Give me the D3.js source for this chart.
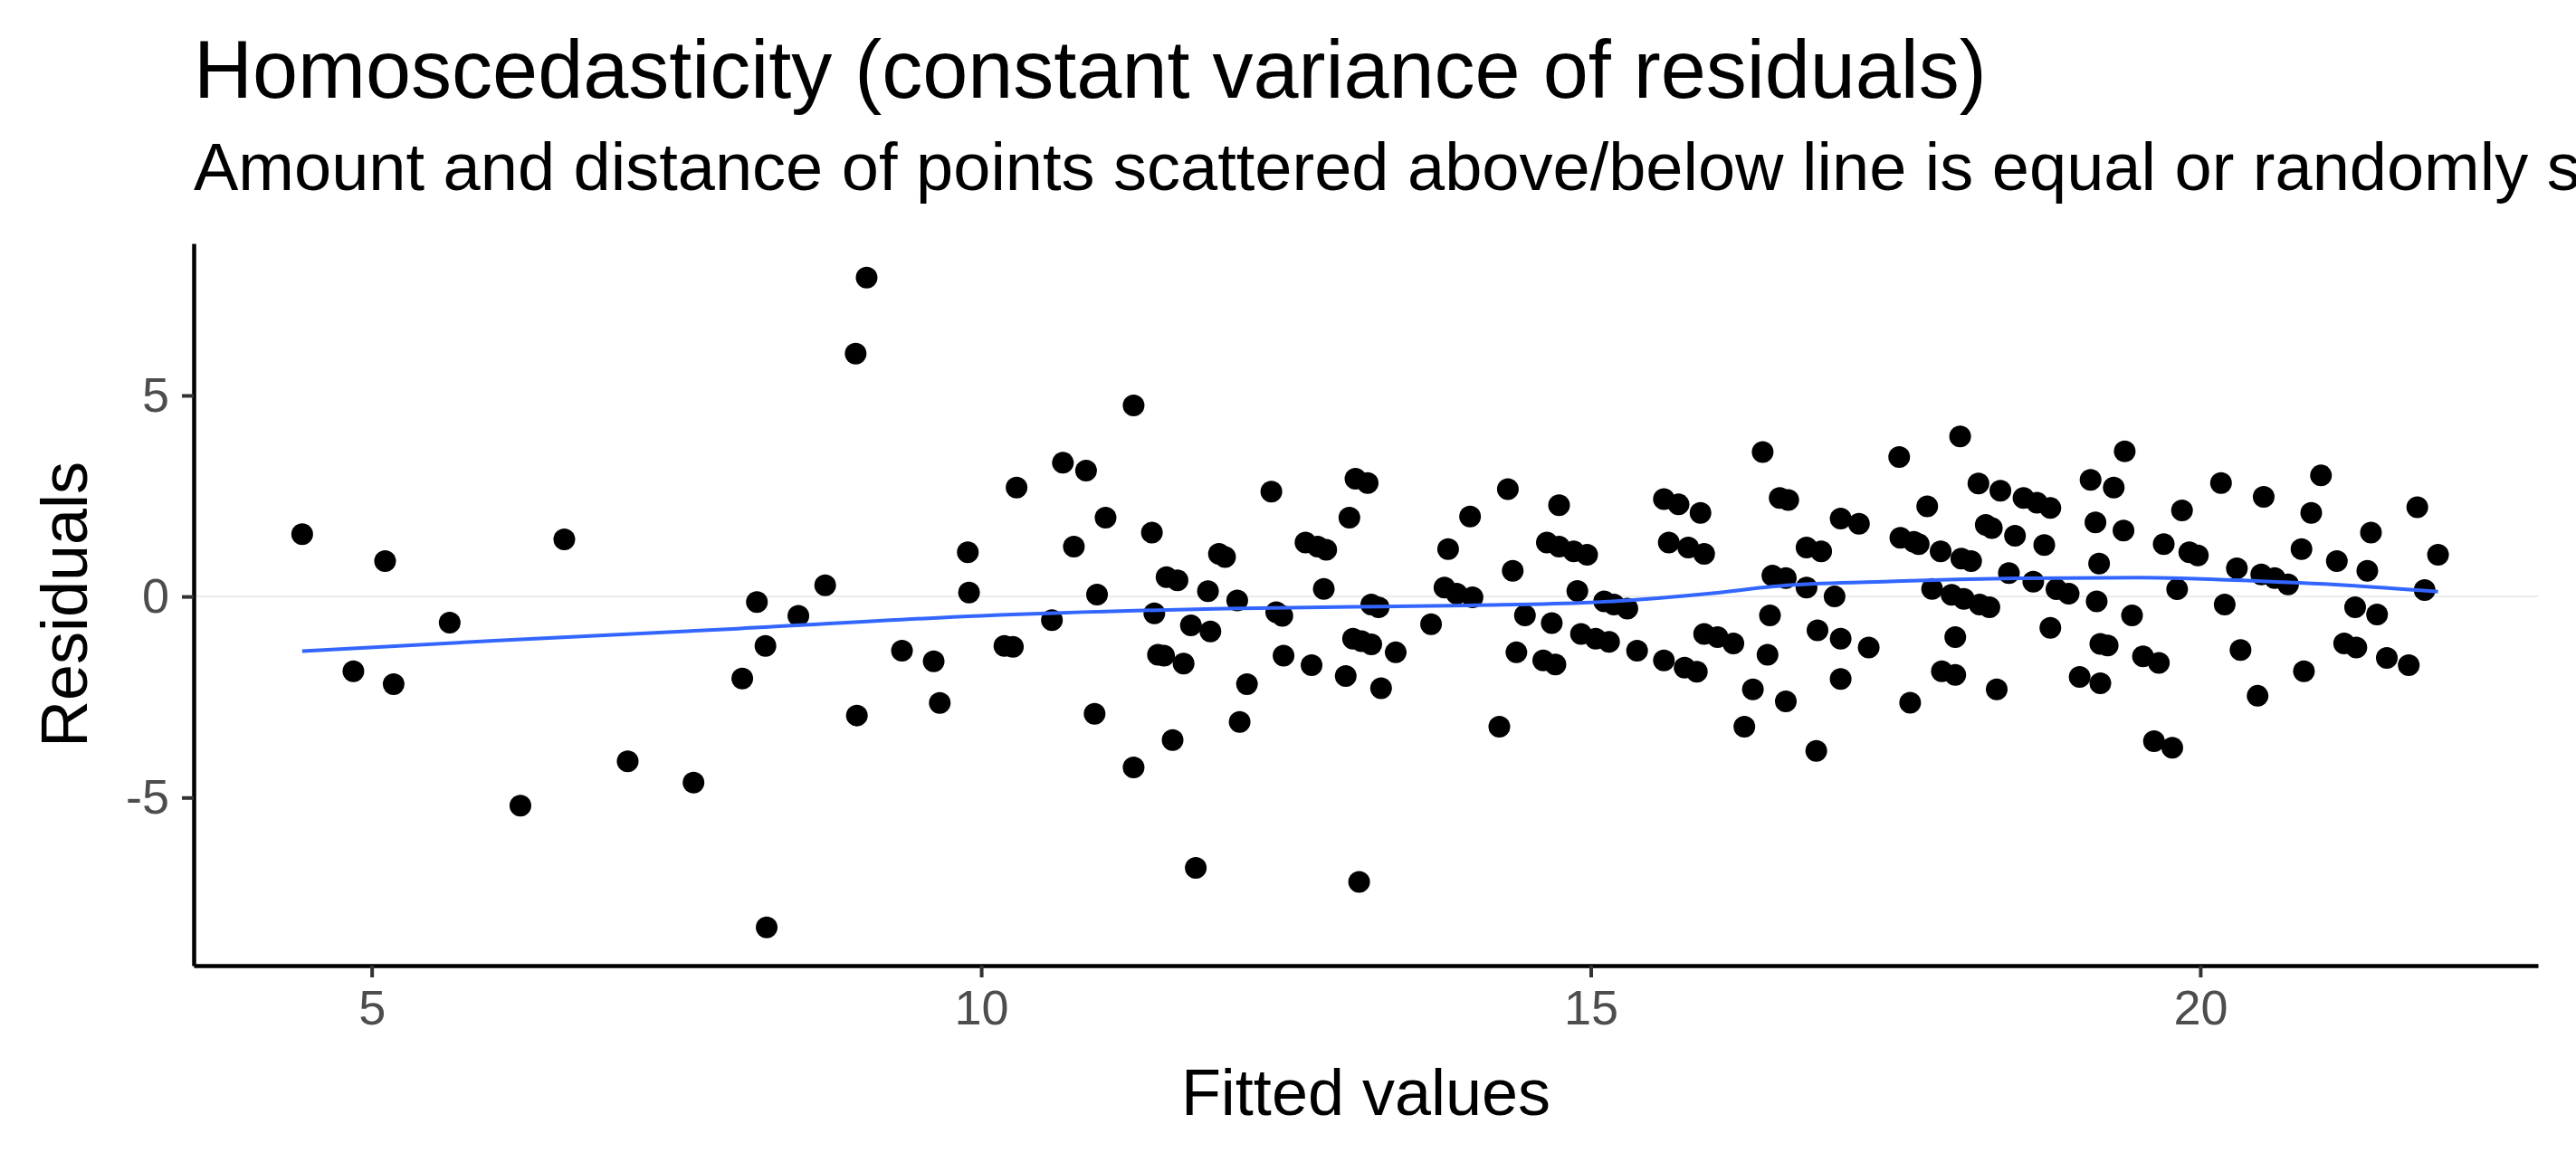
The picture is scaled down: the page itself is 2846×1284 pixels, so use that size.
<!DOCTYPE html>
<html>
<head>
<meta charset="utf-8">
<script src="https://cdn.jsdelivr.net/npm/d3@7"></script>
<style>
  body { margin: 0; background: #fff; overflow: hidden; }
  text { font-family: Arial, "Liberation Sans", sans-serif; }
</style>
</head>
<body>
<div id="chart"></div>
<script>
// fitted values / residuals
var fitted = [4.43,5.11,6.58,4.85,5.18,5.64,6.22,7.10,7.64,8.24,8.04,8.16,8.23,8.50,8.72,8.97,9.06,8.98,9.35,9.61,9.66,9.89,9.90,
  10.29,10.19,10.26,10.58,10.67,10.86,10.76,11.02,10.95,10.93,11.25,11.25,11.40,11.42,11.52,11.61,11.45,11.50,11.66,11.72,11.88,11.57,11.76,11.86,11.95,12.00,12.10,12.18,12.12,12.38,12.42,12.47,12.48,12.66,12.76,12.83,12.71,12.81,13.02,13.07,13.17,12.99,13.05,13.12,13.20,13.20,13.26,13.40,13.28,13.10,13.69,13.80,13.90,14.03,13.83,14.01,14.32,14.36,14.25,14.46,14.39,14.68,14.61,14.71,14.74,14.64,14.74,14.86,14.97,14.89,15.11,15.19,15.30,14.92,15.04,15.15,15.38,15.60,15.72,15.90,15.64,15.80,15.93,15.60,15.77,15.87,15.93,16.04,16.17,16.33,16.26,16.41,
  16.55,16.62,16.49,16.60,16.47,16.45,16.60,16.77,16.89,16.77,17.00,16.86,17.05,17.28,17.05,16.85,17.05,17.20,17.53,17.76,17.54,17.65,17.69,17.87,17.80,17.96,18.06,18.19,18.27,18.04,18.12,17.99,17.88,17.99,17.62,18.03,18.18,18.36,18.24,18.29,18.48,18.55,18.66,18.77,18.72,18.43,18.63,18.82,18.92,18.77,18.33,19.10,19.29,19.14,19.37,19.38,19.17,19.15,19.44,19.18,19.24,19.01,19.18,19.53,19.66,19.62,19.77,19.70,19.85,19.91,19.98,19.81,20.17,20.30,20.20,20.33,20.47,20.52,20.50,20.61,20.72,20.83,20.91,20.99,20.85,21.12,21.40,21.37,21.27,21.45,21.18,21.28,21.53,21.71,21.78,21.95,21.84];
var residuals = [1.55,0.88,1.42,-1.86,-2.18,-0.65,-5.2,-4.1,-4.63,-8.23,-2.04,-0.14,-1.23,-0.48,0.28,6.04,7.93,-2.96,-1.35,-1.61,-2.65,1.10,0.10,
  2.71,-1.23,-1.25,-0.59,3.33,3.13,1.24,1.96,0.05,-2.92,4.75,-4.25,1.59,-0.42,0.48,0.40,-1.45,-1.47,-1.67,-0.72,-0.87,-3.57,-6.75,0.13,1.06,0.98,-0.10,-2.18,-3.12,2.61,-0.39,-0.48,-1.47,1.34,1.24,1.16,-1.71,0.19,1.96,2.93,2.82,-1.98,-1.05,-1.11,-1.19,-0.20,-0.27,-1.39,-2.28,-7.10,-0.69,0.22,0.07,-0.02,1.18,1.99,2.67,0.64,-3.24,-0.47,-1.39,-0.66,-1.59,-1.69,2.27,1.34,1.24,1.12,1.04,0.14,-0.12,-0.20,-0.30,-0.93,-1.05,-1.13,-1.35,2.42,2.29,2.08,1.34,1.22,1.06,-1.59,-1.77,-1.87,-0.93,-1.01,-1.17,-2.31,-3.24,3.59,
  2.45,2.40,0.52,0.46,-0.47,-1.45,-2.61,1.22,1.12,0.22,0.0,-0.84,-1.05,-1.27,-2.05,-3.84,1.94,1.81,3.47,2.24,1.46,1.36,1.30,1.12,0.19,0.04,-0.06,-0.20,-0.27,0.94,0.88,-1.01,-1.86,-1.95,-2.64,3.98,2.81,2.63,1.78,1.70,1.51,2.45,2.33,2.20,1.28,0.58,0.37,0.18,0.07,-0.78,-2.31,2.90,2.71,1.84,1.64,3.61,0.82,-0.12,-0.47,-1.18,-1.22,-2.0,-2.16,-1.49,-1.65,-3.60,-3.76,1.30,2.14,1.10,1.02,0.18,2.82,0.70,-0.20,-1.33,-2.47,2.48,0.55,0.46,0.30,1.18,2.08,3.01,-1.86,0.88,1.59,0.64,-0.27,-0.45,-1.17,-1.27,-1.53,-1.71,2.22,1.04,0.16];
// smoothed trend (loess)
var smoothX = [4.43, 6, 8, 10, 12, 14, 15, 16, 16.5, 17.5, 18.5, 19.5, 20.5, 21.2, 21.95];
var smoothY = [-1.36, -1.1, -0.8, -0.48, -0.3, -0.22, -0.15, 0.08, 0.25, 0.38, 0.45, 0.47, 0.38, 0.28, 0.12];
var xTicks = [5, 10, 15, 20];
var yTicks = [-5, 0, 5];

var width = 2846, height = 1284;
var margin = {top: 269, right: 42, bottom: 217, left: 214};

var svg = d3.select("#chart").append("svg")
    .attr("width", width)
    .attr("height", height);

var x = d3.scaleLinear().domain([3.54, 22.77]).range([margin.left, width - margin.right]);
var y = d3.scaleLinear().domain([-9.18, 8.78]).range([height - margin.bottom, margin.top]);

// title + subtitle
svg.append("text").attr("x", 214).attr("y", 108)
    .attr("font-size", 90).attr("fill", "#000")
    .text("Homoscedasticity (constant variance of residuals)");
svg.append("text").attr("x", 214).attr("y", 210)
    .attr("font-size", 74).attr("fill", "#000")
    .text("Amount and distance of points scattered above/below line is equal or randomly spread");

// zero grid line
svg.append("line")
    .attr("x1", margin.left).attr("x2", width - margin.right)
    .attr("y1", y(0)).attr("y2", y(0))
    .attr("stroke", "#ebebeb").attr("stroke-width", 2);

// points
svg.append("g").selectAll("circle").data(fitted)
    .enter().append("circle")
    .attr("cx", function(d) { return x(d); })
    .attr("cy", function(d, i) { return y(residuals[i]); })
    .attr("r", 12)
    .attr("fill", "#000");

// smooth line
var line = d3.line()
    .x(function(d) { return x(d); })
    .y(function(d, i) { return y(smoothY[i]); })
    .curve(d3.curveMonotoneX);
svg.append("path").datum(smoothX)
    .attr("d", line)
    .attr("fill", "none")
    .attr("stroke", "#3366ff")
    .attr("stroke-width", 4);

// axes
var fmt = function(d) { return String(d); };  // plain hyphen minus, like the original
var xAxis = svg.append("g")
    .attr("transform", "translate(0," + (height - margin.bottom) + ")")
    .call(d3.axisBottom(x).tickValues(xTicks).tickFormat(fmt).tickSize(13).tickPadding(14).tickSizeOuter(0));
var yAxis = svg.append("g")
    .attr("transform", "translate(" + margin.left + ",0)")
    .call(d3.axisLeft(y).tickValues(yTicks).tickFormat(fmt).tickSize(13).tickPadding(14).tickSizeOuter(0));

[xAxis, yAxis].forEach(function(a) {
    a.select(".domain").attr("stroke", "#000").attr("stroke-width", 4.5);
    a.selectAll(".tick line").attr("stroke", "#333").attr("stroke-width", 4);
    a.selectAll(".tick text").attr("font-size", 54).attr("fill", "#4d4d4d")
        .style("font-family", "Arial, 'Liberation Sans', sans-serif");
});

// axis titles
svg.append("text").attr("x", (margin.left + width - margin.right) / 2).attr("y", 1232)
    .attr("text-anchor", "middle").attr("font-size", 72)
    .text("Fitted values");
svg.append("text")
    .attr("transform", "translate(96," + ((margin.top + height - margin.bottom) / 2) + ") rotate(-90)")
    .attr("text-anchor", "middle").attr("font-size", 72)
    .text("Residuals");
</script>
</body>
</html>
